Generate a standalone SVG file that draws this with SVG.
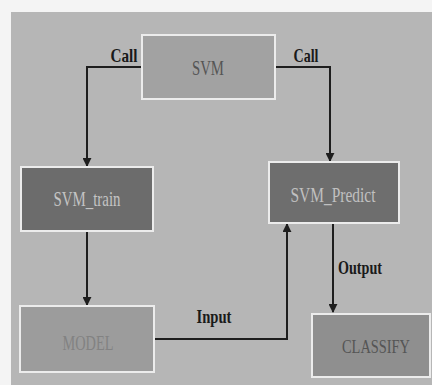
<svg xmlns="http://www.w3.org/2000/svg" width="432" height="385" viewBox="0 0 432 385">
<style>
.box{stroke:#ececec;stroke-width:2}
.t{font-family:"Liberation Serif","Times New Roman",serif;font-size:21px;text-anchor:middle}
.lbl{font-family:"Liberation Serif","Times New Roman",serif;font-size:19px;font-weight:bold;fill:#1a1a1a;text-anchor:middle}
.ln{fill:none;stroke:#1e1e1e;stroke-width:2}
</style>
<defs>
<marker id="ah" viewBox="0 0 10 10" refX="9" refY="5" markerWidth="4.5" markerHeight="4.5" orient="auto" markerUnits="strokeWidth">
<path d="M0,0 L10,5 L0,10 z" fill="#1e1e1e"/>
</marker>
</defs>
<rect x="0" y="0" width="432" height="385" fill="#f4f4f4"/>
<rect x="11" y="12" width="421" height="373" fill="#b6b6b6"/>
<g id="connectors">
<path class="ln" d="M141,67 H87 V166" marker-end="url(#ah)"/>
<path class="ln" d="M275,67 H330 V161" marker-end="url(#ah)"/>
<path class="ln" d="M87,232 V305" marker-end="url(#ah)"/>
<path class="ln" d="M155,339 H287 V224" marker-end="url(#ah)"/>
<path class="ln" d="M333,224 V312" marker-end="url(#ah)"/>
<text class="lbl" x="124" y="62" textLength="27" lengthAdjust="spacingAndGlyphs">Call</text>
<text class="lbl" x="306" y="62" textLength="25" lengthAdjust="spacingAndGlyphs">Call</text>
<text class="lbl" x="214" y="323" textLength="35" lengthAdjust="spacingAndGlyphs">Input</text>
<text class="lbl" x="360" y="274" textLength="44" lengthAdjust="spacingAndGlyphs">Output</text>
</g>
<g id="svm">
<rect class="box" x="142" y="35" width="133" height="64" fill="#a2a2a2"/>
<text class="t" x="208" y="75" fill="#555555" textLength="32" lengthAdjust="spacingAndGlyphs">SVM</text>
</g>
<g id="svm_train">
<rect class="box" x="21" y="167" width="132" height="64" fill="#6c6c6c"/>
<text class="t" x="87" y="206" fill="#c4c4c4" textLength="67" lengthAdjust="spacingAndGlyphs">SVM_train</text>
</g>
<g id="svm_predict">
<rect class="box" x="269" y="162" width="130" height="61" fill="#6e6e6e"/>
<text class="t" x="333" y="202" fill="#c0c0c0" textLength="85" lengthAdjust="spacingAndGlyphs">SVM_Predict</text>
</g>
<g id="model">
<rect class="box" x="20" y="306" width="134" height="66" fill="#9c9c9c"/>
<text class="t" x="88" y="350" fill="#828282" textLength="51" lengthAdjust="spacingAndGlyphs">MODEL</text>
</g>
<g id="classify">
<rect class="box" x="312" y="314" width="118" height="63" fill="#8f8f8f"/>
<text class="t" x="376" y="353" fill="#555555" style="font-size:19px" textLength="68" lengthAdjust="spacingAndGlyphs">CLASSIFY</text>
</g>
</svg>
